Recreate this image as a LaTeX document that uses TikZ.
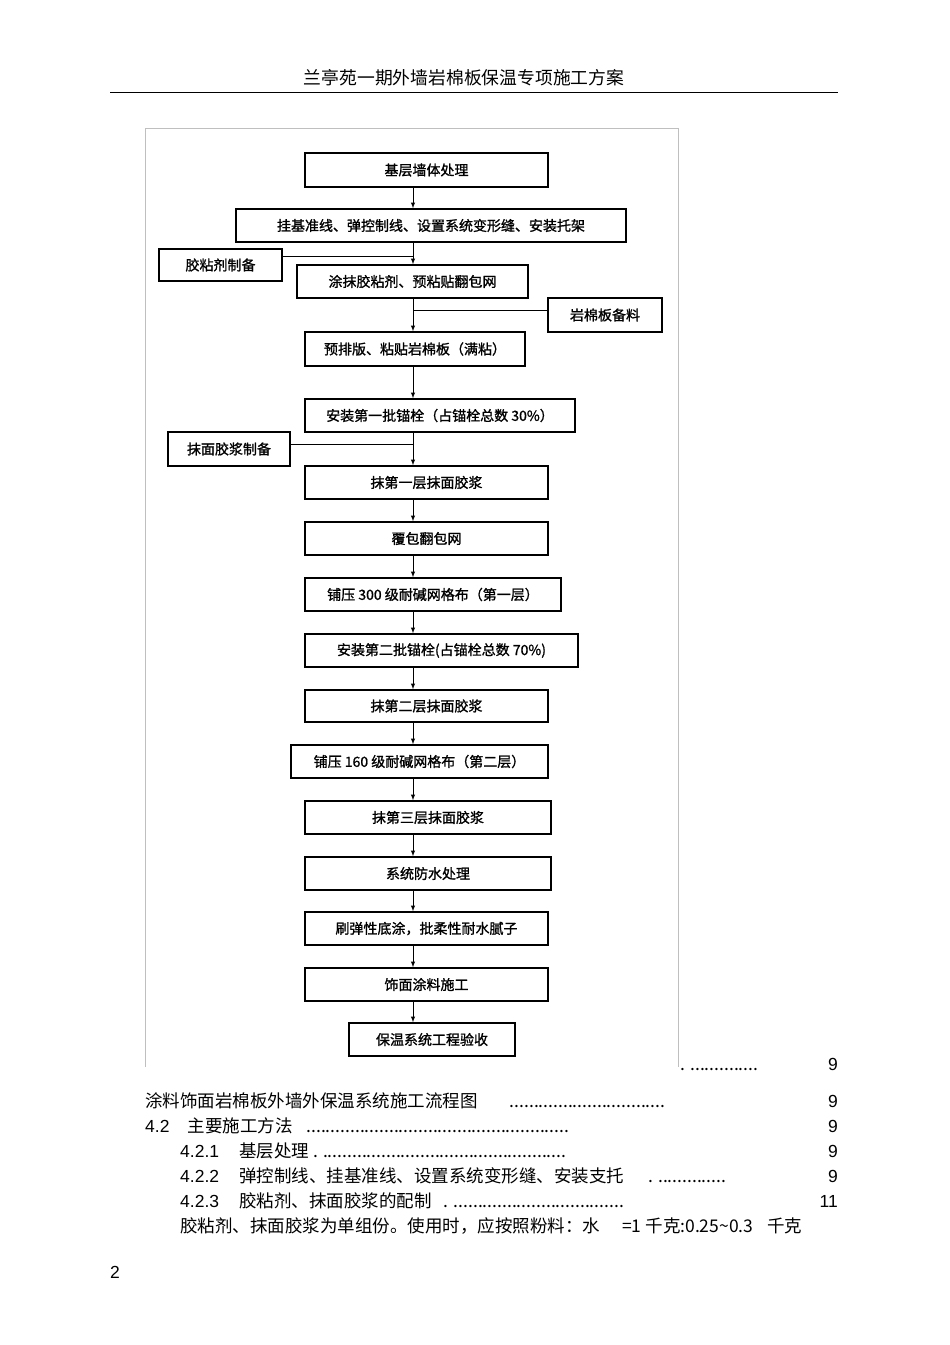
\documentclass[tikz,border=0pt]{standalone}
\usepackage{fontspec}
\setmainfont{Liberation Sans}
\newfontfamily\cjk{Noto Sans CJK SC}
\newfontfamily\cjkb[FakeBold=1.2]{Noto Sans CJK SC}
\begin{document}
\begin{tikzpicture}[x=1pt,y=-1pt,
  bx/.style={draw,line width=1.4pt,inner sep=0pt,font=\cjkb\fontsize{14}{14}\selectfont},
  ar/.style={-latex,line width=1pt},
  ln/.style={line width=1pt},
  tx/.style={anchor=base west,inner sep=0pt,font=\cjk\fontsize{17.5}{17.5}\selectfont},
  nm/.style={anchor=base east,inner sep=0pt,font=\fontsize{17.5}{17.5}\selectfont}]
\useasboundingbox (0,0) rectangle (950,1345);
\node[font=\cjk\fontsize{17.8}{17.8}\selectfont] (hd) at (464,78) {兰亭苑一期外墙岩棉板保温专项施工方案};
\draw[line width=0.6pt] (110,92) -- (838,92);
\draw[gray!50,line width=0.8pt] (145,1067) -- (145,128) -- (678,128) -- (678,1067);
\newcommand{\B}[6]{\node[bx,minimum width=#4-#2,minimum height=#5-#3] (#1) at ({(#2+#4)/2},{(#3+#5)/2}) {#6};}
\B{b1}{305}{153}{548}{187}{基层墙体处理}
\B{b2}{236}{209}{626}{242}{挂基准线、弹控制线、设置系统变形缝、安装托架}
\B{s1}{159}{249}{282}{281}{胶粘剂制备}
\B{b3}{297}{265}{528}{298}{涂抹胶粘剂、预粘贴翻包网}
\B{s2}{548}{298}{662}{332}{岩棉板备料}
\B{b4}{305}{332}{525}{366}{预排版、粘贴岩棉板（满粘）}
\B{b5}{305}{399}{575}{432}{安装第一批锚栓（占锚栓总数 30\%）}
\B{s3}{168}{432}{290}{466}{抹面胶浆制备}
\B{b6}{305}{466}{548}{499}{抹第一层抹面胶浆}
\B{b7}{305}{522}{548}{555}{覆包翻包网}
\B{b8}{305}{578}{561}{611}{铺压 300 级耐碱网格布（第一层）}
\B{b9}{305}{634}{578}{667}{安装第二批锚栓(占锚栓总数 70\%)}
\B{b10}{305}{690}{548}{722}{抹第二层抹面胶浆}
\B{b11}{291}{745}{548}{778}{铺压 160 级耐碱网格布（第二层）}
\B{b12}{305}{801}{551}{834}{抹第三层抹面胶浆}
\B{b13}{305}{857}{551}{890}{系统防水处理}
\B{b14}{305}{912}{548}{945}{刷弹性底涂，批柔性耐水腻子}
\B{b15}{305}{968}{548}{1001}{饰面涂料施工}
\B{b16}{349}{1023}{515}{1056}{保温系统工程验收}
\foreach \a/\b in {b1/b2,b2/b3,b3/b4,b4/b5,b5/b6,b6/b7,b7/b8,b8/b9,b9/b10,b10/b11,b11/b12,b12/b13,b13/b14,b14/b15,b15/b16}
  \draw[ar] (\a.south -| 413,0) -- (\b.north -| 413,0);
\coordinate (j1) at (413,256);
\coordinate (j2) at (413,310);
\coordinate (j3) at (413,444);
\draw[ln] (s1.east |- j1) -- (j1);
\draw[ln] (s2.west |- j2) -- (j2);
\draw[ln] (s3.east |- j3) -- (j3);
\node[tx] (t0) at (680,1070) {. ..............};
\node[nm] (n0) at (838,1070) {9};
\node[tx] (t1) at (145,1107) {涂料饰面岩棉板外墙外保温系统施工流程图\hspace{32pt}................................};
\node[nm] (n1) at (838,1107) {9};
\node[tx] (t2) at (145,1132) {\fontspec{Liberation Sans}4.2\hspace{18pt}\cjk 主要施工方法\hspace{14pt}......................................................};
\node[nm] (n2) at (838,1132) {9};
\node[tx] (t3) at (180,1157) {\fontspec{Liberation Sans}4.2.1\hspace{20pt}\cjk 基层处理 . ..................................................};
\node[nm] (n3) at (838,1157) {9};
\node[tx] (t4) at (180,1182) {\fontspec{Liberation Sans}4.2.2\hspace{20pt}\cjk 弹控制线、挂基准线、设置系统变形缝、安装支托\hspace{24pt}. ..............};
\node[nm] (n4) at (838,1182) {9};
\node[tx] (t5) at (180,1207) {\fontspec{Liberation Sans}4.2.3\hspace{20pt}\cjk 胶粘剂、抹面胶浆的配制\hspace{12pt}. ...................................};
\node[nm] (n5) at (838,1207) {11};
\node[tx] (t6) at (180,1232) {胶粘剂、抹面胶浆为单组份。使用时，应按照粉料：水\hspace{22pt}=1 千克:0.25\textasciitilde0.3\hspace{14pt}千克};
\node[tx] (pg) at (110,1278) {\fontspec{Liberation Sans}2};
\end{tikzpicture}
\end{document}
